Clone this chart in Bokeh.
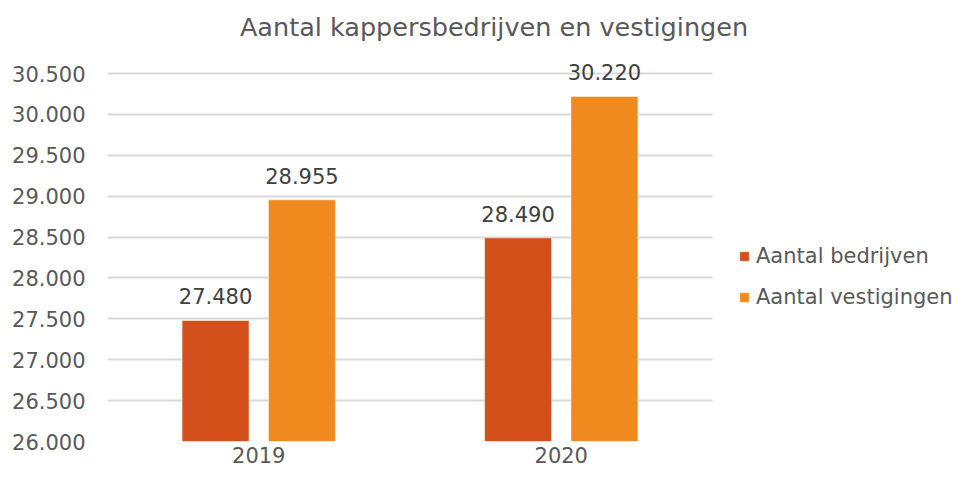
from bokeh.plotting import figure
from bokeh.models import (ColumnDataSource, Range1d, FixedTicker, Legend, LegendItem,
                          Label, LabelSet, BoxAnnotation)
from bokeh.transform import dodge
from bokeh.core.properties import value
from bokeh.embed import file_html
from bokeh.resources import INLINE

# ---- data ----
years = ["2019", "2020"]
bedrijven = [27480, 28490]
vestigingen = [28955, 30220]
series_names = ["Aantal bedrijven", "Aantal vestigingen"]
y_ticks = [26000, 26500, 27000, 27500, 28000, 28500, 29000, 29500, 30000, 30500]
y_tick_labels = ["26.000", "26.500", "27.000", "27.500", "28.000",
                 "28.500", "29.000", "29.500", "30.000", "30.500"]
title_text = "Aantal kappersbedrijven en vestigingen"

# ---- style / layout ----
FONT = "DejaVu Sans"
C_DARK = "#D4501A"
C_ORANGE = "#F08A1E"
TXT = "#595959"
VAL_TXT = "#404040"

W, H = 954, 471
B_LEFT, B_BOTTOM = 107, 30
FRAME_W = W - B_LEFT
FRAME_H = H - B_BOTTOM
CAT_PX = 302.5          # pixels per category
GRID_TOP_PX = 73        # y of top gridline in canvas px
px_per_unit = (FRAME_H - GRID_TOP_PX) / (y_ticks[-1] - y_ticks[0])
y_end = y_ticks[-1] + GRID_TOP_PX / px_per_unit
x_end = FRAME_W / CAT_PX

def fmt(v):
    return f"{v:,}".replace(",", ".")

xc = [i + 0.5 for i in range(len(years))]
src = ColumnDataSource(dict(
    xc=xc,
    bedrijven=bedrijven,
    vestigingen=vestigingen,
    lab_b=[fmt(v) for v in bedrijven],
    lab_v=[fmt(v) for v in vestigingen],
))

p = figure(width=W, height=H,
           x_range=Range1d(0, x_end),
           y_range=Range1d(y_ticks[0], y_end),
           output_backend="svg", toolbar_location=None,
           min_border_left=B_LEFT, min_border_right=0,
           min_border_top=0, min_border_bottom=B_BOTTOM,
           background_fill_color="white", border_fill_color="white")
p.outline_line_color = None

# hide gridlines where the legend sits
p.add_layout(BoxAnnotation(left=len(years), fill_color="white", fill_alpha=1,
                           line_color=None, level="underlay"))

BW = 0.2215
OFF = 0.1428
r1 = p.vbar(x=dodge("xc", -OFF), top="bedrijven", bottom=y_ticks[0], width=BW,
            source=src, fill_color=C_DARK, line_color="white", line_alpha=0.5,
            line_width=1)
r2 = p.vbar(x=dodge("xc", OFF), top="vestigingen", bottom=y_ticks[0], width=BW,
            source=src, fill_color=C_ORANGE, line_color="white", line_alpha=0.5,
            line_width=1)

for col, lab, off in (("bedrijven", "lab_b", -OFF), ("vestigingen", "lab_v", OFF)):
    p.add_layout(LabelSet(x=dodge("xc", off), y=col, text=lab, source=src,
                          text_align="center", text_baseline="middle", y_offset=24,
                          text_font=value(FONT), text_font_size=value("21px"),
                          text_color=VAL_TXT))

# axes
p.yaxis.ticker = FixedTicker(ticks=y_ticks)
p.yaxis.major_label_overrides = {t: l for t, l in zip(y_ticks, y_tick_labels)}
p.xaxis.ticker = FixedTicker(ticks=xc)
p.xaxis.major_label_overrides = {x: y for x, y in zip(xc, years)}
for ax in (p.xaxis[0], p.yaxis[0]):
    ax.axis_line_color = None
    ax.major_tick_line_color = None
    ax.minor_tick_line_color = None
    ax.major_tick_out = 0
    ax.major_tick_in = 0
    ax.major_label_text_font = FONT
    ax.major_label_text_font_size = "21px"
    ax.major_label_text_color = TXT
p.yaxis.major_label_standoff = 22
p.xaxis.major_label_standoff = 5

p.xgrid.visible = False
p.ygrid.grid_line_color = "#D9D9D9"
p.ygrid.grid_line_width = 1.8

# title centred over the whole chart
p.add_layout(Label(x=(493.5 - B_LEFT) / CAT_PX, y=y_ticks[-1] + 47 / px_per_unit,
                   text=title_text, text_align="center", text_baseline="middle",
                   text_font=FONT, text_font_size="25.5px", text_color=TXT))

legend = Legend(items=[LegendItem(label=series_names[0], renderers=[r1]),
                       LegendItem(label=series_names[1], renderers=[r2])],
                location=(631, 131), orientation="vertical",
                glyph_width=12, glyph_height=12, label_standoff=6,
                label_text_font=FONT, label_text_font_size="21px",
                label_text_color=TXT, label_height=26, spacing=15,
                padding=0, margin=0, border_line_color=None,
                background_fill_alpha=0)
p.add_layout(legend)

open("out.html", "w").write(file_html(p, INLINE))
